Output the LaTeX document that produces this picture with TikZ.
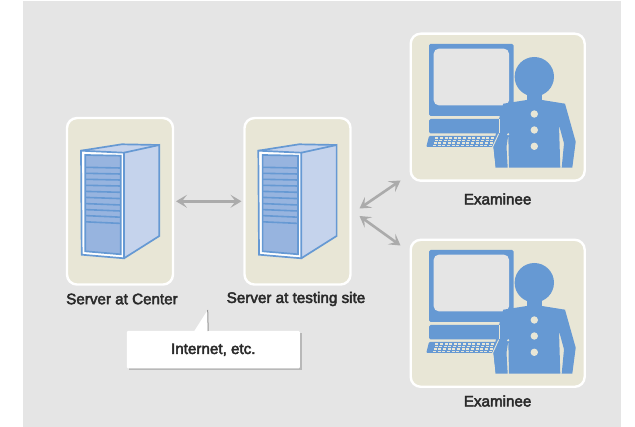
\documentclass[tikz,border=0pt]{standalone}
\usepackage{fontspec}
\setmainfont{Liberation Sans}
\newfontfamily\lblfont[FakeBold=3]{Liberation Sans}
\usetikzlibrary{arrows.meta}
\definecolor{bgray}{HTML}{E5E5E5}
\definecolor{tan}{HTML}{E8E6D6}
\definecolor{iconblue}{HTML}{6699D3}
\definecolor{sidepale}{HTML}{C5D3EC}
\definecolor{panelblue}{HTML}{97B4DF}
\definecolor{arrowgray}{HTML}{ABABAB}
\definecolor{inkgray}{HTML}{2A2A2A}
\tikzset{
  card/.style={draw=white,line width=2.4pt,fill=tan,rounded corners=10pt,inner sep=0pt,outer sep=0pt},
  lbl/.style={font=\lblfont\fontsize{15.2}{17}\selectfont,text=inkgray,inner sep=0pt,anchor=center},
  link/.style={draw=arrowgray,line width=2.6pt,{Stealth[length=11pt,width=13pt,inset=5pt]}-{Stealth[length=11pt,width=13pt,inset=5pt]}},
  blueedge/.style={draw=iconblue,line width=1.7pt,line join=miter},
}
\newcommand{\serverIcon}[2]{%
\begin{scope}[shift={(#1,#2)}]
  \fill[sidepale] (81,150.7)--(121.7,144.3)--(159.3,145)--(159.3,236)--(124,258.3)--(124,152.7)--cycle;
  \draw[blueedge] (124,152.7)--(159.3,145)--(159.3,236)--(124,258.3);
  \draw[blueedge] (81,150.7)--(121.7,144.3)--(159.3,145);
  \draw[blueedge,fill=white] (81,150.7)--(124,152.7)--(124,258.3)--(81.7,254.7)--cycle;
  \draw[blueedge,fill=panelblue] (85.3,155)--(120.7,155.7)--(120.7,254.3)--(85.3,251.3)--cycle;
  \foreach \ya/\yb in {167.3/168,173.3/174,179.3/180,185.3/186,191.4/192.3,197.4/198.6,203.6/205,209.6/211,215.6/217.2,221.8/223.4}
    \draw[iconblue,line width=1.6pt] (85.3,\ya)--(120.7,\yb);
\end{scope}}
\newcommand{\examineeIcon}[1]{%
\begin{scope}[shift={(0,#1)}]
  \fill[iconblue,rounded corners=1.5pt] (429,44) rectangle (513.7,116);
  \fill[bgray,rounded corners=5pt] (433.7,48.7) rectangle (509,105.3);
  \fill[iconblue,rounded corners=1.5pt] (429,119) rectangle (505,133.3);
  \fill[iconblue,rounded corners=1pt] (429,136) -- (426.3,147) -- (505,147) -- (505,136) -- cycle;
  \foreach \r [evaluate=\r as \yy using 137.2+2.45*\r, evaluate=\r as \xo using 435.2-0.7*\r] in {0,1,2,3}
    \foreach \c in {0,...,14}
      \fill[tan] ({\xo+4.65*\c},\yy) rectangle ++(3,1.6);
  % person
  \fill[iconblue] (534.3,76.7) circle (19.7);
  \fill[iconblue] (526.7,90) rectangle (542,102);
  \fill[iconblue] (503.3,103.7)--(526.7,100)--(542,100)--(565,103.7)--(575.7,141.7)--(572.3,167.7)--(561.7,167.7)--(564,143.3)--(559,125)--(560.3,167.7)--(509,167.7)--(508.3,135)--(506.5,146.7)--(507.7,167.7)--(495.3,167.7)--(493,146.7)--(500,115)--cycle;
  \draw[tan,line width=0.9pt] (499.5,119)--(499.5,133.5);
  \draw[tan,line width=0.9pt] (498.7,133.7)--(492.7,146.7)--(495,167.7);
  \fill[tan] (508.2,134.3) circle (1.2);
  \foreach \yy in {114,130,146.3}
    \fill[tan] (534.3,\yy) circle (3.7);
\end{scope}}
\begin{document}
\begin{tikzpicture}[x=1pt,y=-1pt]
\useasboundingbox (0,0) rectangle (635,427);
\fill[bgray] (23,1) rectangle (621,427);
% cards
\node[card,minimum width=106pt,minimum height=166.5pt] (srvA) at (120,201.3) {};
\node[card,minimum width=106pt,minimum height=166.5pt] (srvB) at (297.5,201.3) {};
\node[card,minimum width=174pt,minimum height=147pt] (exA) at (497.7,107.2) {};
\node[card,minimum width=174pt,minimum height=147pt] (exB) at (497.7,313.3) {};
\serverIcon{0}{0}
\serverIcon{177.3}{0}
\examineeIcon{0}
\examineeIcon{206}
% labels
\node[lbl] (lA) at (122,299) {Server at Center};
\node[lbl] (lB) at (296,299) {Server at testing site};
\node[lbl] (lC) at (497.6,199) {Examinee};
\node[lbl] (lD) at (497.6,401) {Examinee};
% connectors
\coordinate (bR1) at (359.5,208.5);
\coordinate (bR2) at (359.5,216);
\coordinate (eA) at (400.5,180.5);
\coordinate (eB) at (400.5,245.5);
\draw[link,shorten <=3pt,shorten >=3pt] (srvA.east) -- (srvB.west);
\draw[link] (bR1) -- (eA);
\draw[link] (bR2) -- (eB);
% callout
\fill[black!28] (128.5,333) rectangle (301.5,370);
\node[fill=white,rounded corners=1.2pt,minimum width=173pt,minimum height=37.4pt,inner sep=0pt,outer sep=0pt,
  font=\lblfont\fontsize{15.2}{17}\selectfont,text=inkgray] (callout) at (213.3,349.7) {Internet, etc.};
\coordinate (tip) at (207.7,310);
\fill[white] (tip) -- (193.7,332) -- (207.7,332) -- cycle;
\draw[black!40,line width=1pt] (tip) -- (208.2,331);
\end{tikzpicture}
\end{document}
